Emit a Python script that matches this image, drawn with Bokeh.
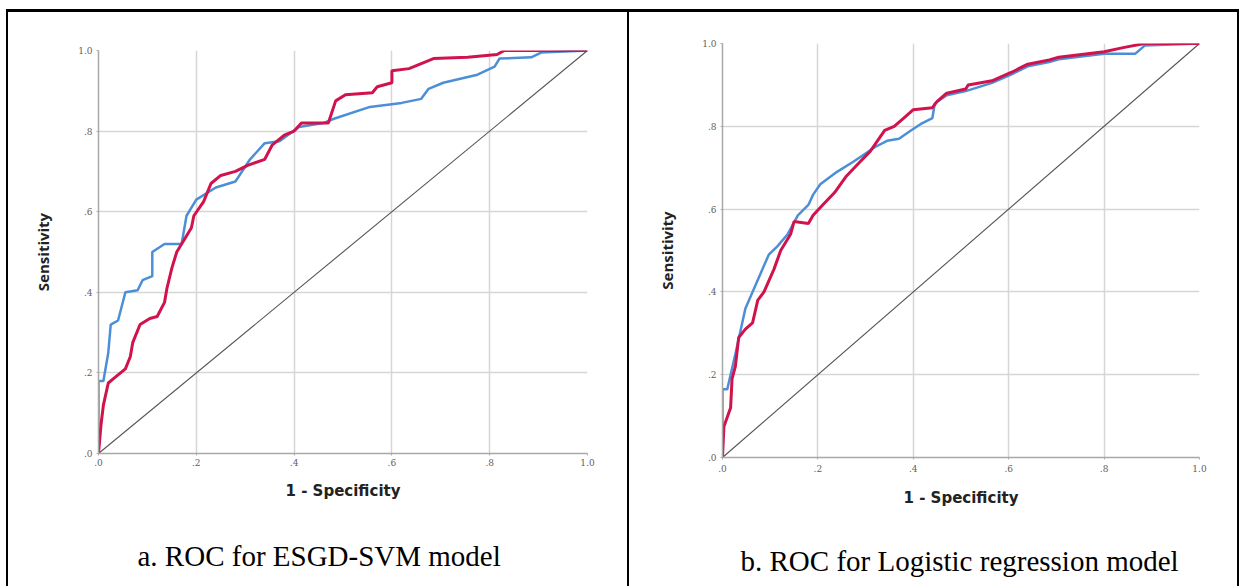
from bokeh.plotting import figure
from bokeh.layouts import row, column
from bokeh.models import FixedTicker, Title, Spacer
from bokeh.embed import file_html
from bokeh.resources import INLINE

# ---- data ----
tick_values = [0.0, 0.2, 0.4, 0.6, 0.8, 1.0]
tick_labels = [".0", ".2", ".4", ".6", ".8", "1.0"]

chance_x = [0, 1]
chance_y = [0, 1]

svm_blue_x = [0, 0, .01, .02, .025, .04, .055, .08, .09, .11, .11, .135, .17, .18, .2, .24, .28, .31, .34, .37,
              .41, .46, .48, .555, .62, .66, .675, .705, .775, .81, .82, .885, .905, 1.0]
svm_blue_y = [0, .18, .18, .25, .32, .33, .40, .405, .43, .44, .50, .52, .52, .59, .63, .66, .675, .73, .77, .775,
              .81, .82, .83, .86, .87, .88, .905, .92, .94, .96, .98, .983, .995, 1.0]

svm_red_x = [0, .005, .01, .02, .035, .055, .065, .07, .085, .105, .12, .135, .14, .15, .16, .175, .19, .195, .215,
             .23, .25, .28, .305, .34, .355, .38, .40, .415, .47, .485, .505, .56, .57, .6, .6, .635, .665, .685,
             .755, .815, .83, 1.0]
svm_red_y = [0, .07, .12, .175, .19, .21, .24, .275, .32, .335, .34, .375, .41, .46, .50, .53, .56, .59, .625,
             .67, .69, .70, .715, .73, .765, .79, .80, .82, .82, .875, .89, .895, .91, .92, .95, .955, .97, .98,
             .983, .99, 1.0, 1.0]

lr_blue_x = [0, 0, .01, .027, .048, .097, .115, .137, .158, .18, .19, .205, .24, .275, .32, .345, .37, .395, .415,
             .44, .445, .47, .51, .565, .605, .64, .685, .705, .80, .83, .865, .885, 1.0]
lr_blue_y = [0, .165, .165, .25, .36, .49, .51, .54, .585, .61, .635, .66, .69, .715, .75, .765, .77, .79, .805,
             .82, .855, .875, .885, .905, .925, .945, .955, .962, .975, .975, .975, .995, 1.0]

lr_red_x = [0, .003, .017, .02, .027, .034, .048, .063, .074, .087, .108, .122, .143, .15, .18, .19, .21, .235, .26,
            .285, .31, .34, .36, .38, .40, .44, .45, .47, .51, .515, .565, .605, .64, .685, .705, .80, .84, .885, 1.0]
lr_red_y = [0, .075, .12, .19, .22, .29, .31, .325, .38, .40, .455, .50, .54, .57, .565, .585, .61, .64, .68,
            .71, .74, .79, .80, .82, .84, .845, .86, .88, .89, .90, .91, .93, .95, .96, .967, .98, .99, 1.0, 1.0]

captions = ["a. ROC for ESGD-SVM model", "b. ROC for Logistic regression model"]

BLUE = "#4d8fd6"
RED = "#d1134d"


def make_panel(bx, by, rx, ry, caption, fw, fh, mb, styles, cap_offset, tick_standoff, lab_standoff, cap_standoff):
    p = figure(frame_width=fw, frame_height=fh, x_range=(0, 1), y_range=(0, 1),
               output_backend="svg", toolbar_location=None,
               min_border_left=mb[0], min_border_right=mb[1], min_border_top=mb[2], min_border_bottom=mb[3],
               styles=styles)
    p.outline_line_color = None
    p.background_fill_color = "white"
    p.border_fill_color = "white"
    for ax in (p.xaxis[0], p.yaxis[0]):
        ax.ticker = FixedTicker(ticks=tick_values)
        ax.major_label_overrides = dict(zip(tick_values, tick_labels))
        ax.minor_tick_line_color = None
        ax.major_tick_in = 0
        ax.major_tick_out = 2
        ax.major_tick_line_color = "#aaaaaa"
        ax.axis_line_color = "#a8a8a8"
        ax.axis_line_width = 1.5
        ax.major_label_text_font = "DejaVu Serif"
        ax.major_label_text_font_size = "9px"
        ax.major_label_text_color = "#606060"
        ax.axis_label_text_font_style = "bold"
        ax.axis_label_text_color = "#222222"
    p.xaxis.axis_label = "1 - Specificity"
    p.yaxis.axis_label = "Sensitivity"
    p.xaxis.axis_label_text_font = "DejaVu Sans"
    p.xaxis.axis_label_text_font_size = "15px"
    p.yaxis.axis_label_text_font = "Open Sans"
    p.yaxis.axis_label_text_font_size = "15px"
    p.xaxis.major_label_standoff = tick_standoff
    p.yaxis.major_label_standoff = 4
    p.xaxis.axis_label_standoff = lab_standoff
    p.yaxis.axis_label_standoff = 22
    p.grid.grid_line_color = "#d6d6d6"
    p.grid.grid_line_width = 1.5

    p.line(chance_x, chance_y, line_color="#555555", line_width=1.1)
    p.line(bx, by, line_color=BLUE, line_width=2.5)
    p.line(rx, ry, line_color=RED, line_width=3)

    t = Title(text=caption, align="left", offset=cap_offset, standoff=cap_standoff,
              text_font="Liberation Serif", text_font_style="normal", text_font_size="29px",
              text_color="#000000")
    p.add_layout(t, "below")
    return p


p1 = make_panel(svm_blue_x, svm_blue_y, svm_red_x, svm_red_y, captions[0],
                485, 400, (90, 44, 38, 120),
                {"border-top": "3px solid black", "border-left": "2px solid black",
                 "border-right": "2px solid black"},
                39, 3, 13, 70)
p2 = make_panel(lr_blue_x, lr_blue_y, lr_red_x, lr_red_y, captions[1],
                475, 411, (93, 40, 31, 116),
                {"border-top": "3px solid black", "border-right": "2px solid black"},
                18, 5, 14, 66)

layout = row(Spacer(width=6), column(Spacer(height=9), p1), column(Spacer(height=9), p2))
open("out.html", "w").write(file_html(layout, INLINE))
